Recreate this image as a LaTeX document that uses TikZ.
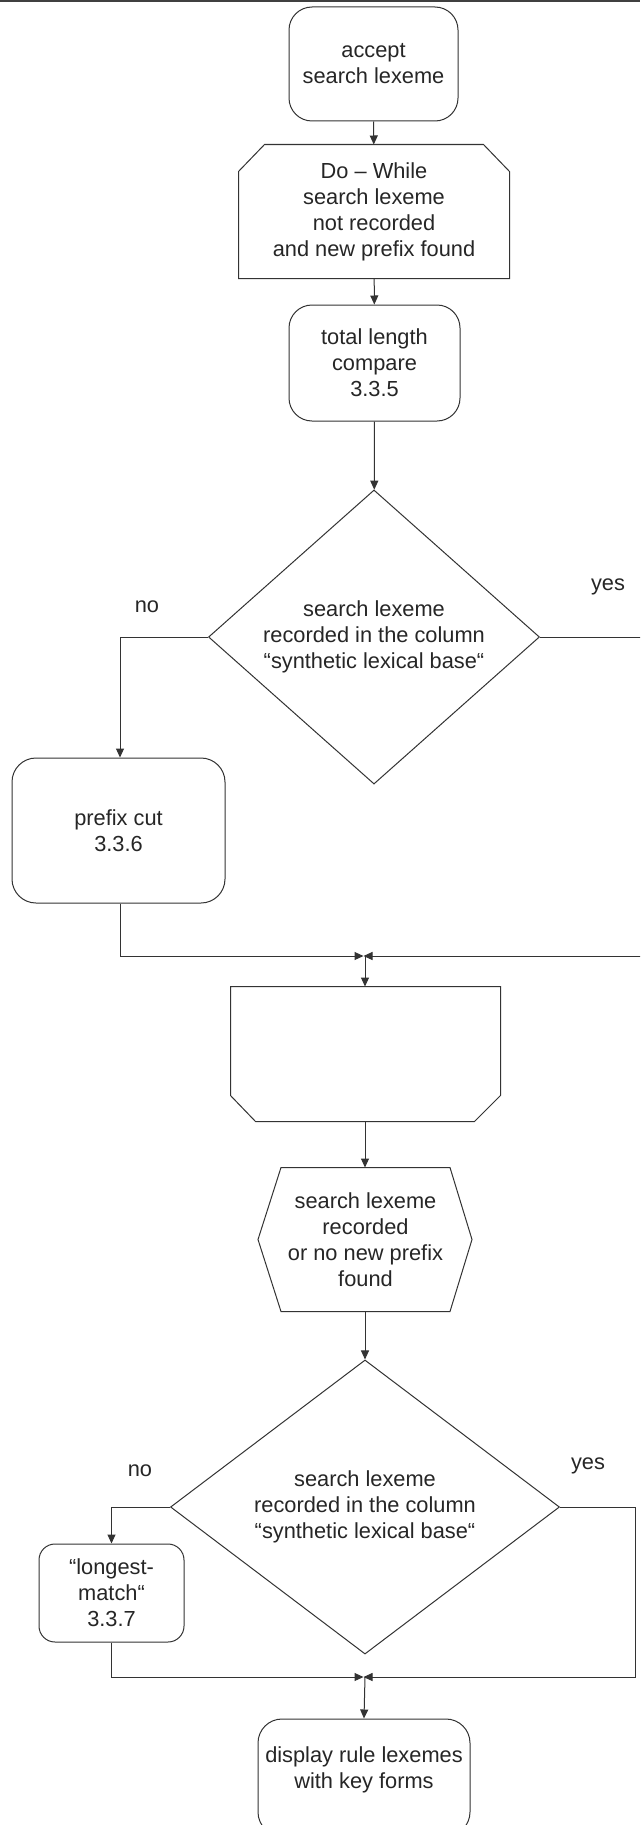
\documentclass[tikz,border=0pt]{standalone}
\usepackage{fontspec}
\setmainfont{Liberation Sans}
\usetikzlibrary{arrows.meta,shapes.geometric}

\begin{document}
\begin{tikzpicture}[x=1pt,y=-1pt,
  line width=1pt,
  every node/.style={font=\fontsize{21.8}{26}\selectfont, align=center, inner sep=0pt, text=black!85},
  ln/.style={draw=black!80, line width=1pt},
  flow/.style={ln, -{Triangle[length=9pt,width=8pt]}},
  roundbox/.style={ln, rectangle, rounded corners=23pt},
  decision/.style={ln, diamond},
  branch/.style={font=\fontsize{21.8}{26}\selectfont}
]
\useasboundingbox (0,0) rectangle (640,1825);
\clip (0,0) rectangle (640,1825);
\fill[white] (0,0) rectangle (640,1825);

% top rule
\draw[draw=black!75, line width=2.2pt] (0,1) -- (640,1);

% loop head and body
\node[roundbox, minimum width=169pt, minimum height=114pt] (accept) at (373.5,64) {accept\\search lexeme};
\node[minimum width=270pt, minimum height=133pt] (dowhile) at (374,211.5)
  {Do – While\\search lexeme\\not recorded\\and new prefix found};
\draw[ln] (dowhile.south west) -- ([yshift=-27pt]dowhile.north west) -- ([xshift=26pt]dowhile.north west)
  -- ([xshift=-26pt]dowhile.north east) -- ([yshift=-27pt]dowhile.north east) -- (dowhile.south east) -- cycle;
\node[roundbox, minimum width=171pt, minimum height=116pt] (total) at (374.5,363) {total length\\compare\\3.3.5};
\node[decision, minimum width=331pt, minimum height=265pt] (dec1) at (374,637)
  {search lexeme\\recorded in the column\\“synthetic lexical base“};
\node[roundbox, rounded corners=24pt, minimum width=213pt, minimum height=145pt] (prefix) at (118.5,830.5) {prefix cut\\3.3.6};

\node[branch] (no1) at (147,607) {no};
\node[branch] (yes1) at (608,587) {yes};

\coordinate (j1) at (365,956);
\coordinate (r1) at (660,637);

% loop end
\node[minimum width=269pt, minimum height=134pt] (loopend) at (365.5,1054) {};
\draw[ln] (loopend.north west) -- ([yshift=26pt]loopend.south west) -- ([xshift=25pt]loopend.south west)
  -- ([xshift=-26pt]loopend.south east) -- ([yshift=26pt]loopend.south east) -- (loopend.north east) -- cycle;

% exit condition (hexagon)
\node[minimum width=168pt, minimum height=143pt] (exitc) at (365.5,1239.5)
  {search lexeme\\recorded\\or no new prefix\\found};
\draw[ln] (exitc.north west) -- ([xshift=-23pt]exitc.west) -- (exitc.south west)
  -- (exitc.south east) -- ([xshift=22pt]exitc.east) -- (exitc.north east) -- cycle;

\node[decision, minimum width=389pt, minimum height=256pt] (dec2) at (365,1507)
  {search lexeme\\recorded in the column\\“synthetic lexical base“};
\node[roundbox, rounded corners=16pt, minimum width=145pt, minimum height=98pt] (longest) at (111.5,1593)
  {“longest-\\match“\\3.3.7};

\node[branch] (no2) at (140,1471) {no};
\node[branch] (yes2) at (588,1466) {yes};

\coordinate (j2) at (365,1677);
\coordinate (r2) at (635,1507);

\node[roundbox, rounded corners=24pt, minimum width=212pt, minimum height=117pt] (display) at (364,1777.5) {};
\node (displaytext) at (364,1770) {display rule lexemes\\with key forms};

% connectors
\draw[flow] (accept) -- (dowhile);
\draw[flow] (dowhile) -- (total);
\draw[flow] (total) -- (dec1);
\draw[flow] (dec1.west) -| ([xshift=1.5pt]prefix.north);
\draw[flow, shorten >=1.5pt] ([xshift=1.5pt]prefix.south) |- (j1);
\draw[flow, shorten >=-1.5pt] (dec1.east) -- (r1) |- (j1);
\draw[flow] (j1) -- (loopend.north -| j1);
\draw[flow] (loopend.south -| j1) -- (exitc.north -| j1);
\draw[flow] (exitc.south -| j1) -- (dec2.north);
\draw[flow] (dec2.west) -| (longest.north);
\draw[flow, shorten >=1.5pt] (longest.south) |- (j2);
\draw[flow, shorten >=-1.5pt] (dec2.east) -- (r2) |- (j2);
\draw[flow] (j2) -- (display.north);
\end{tikzpicture}
\end{document}
